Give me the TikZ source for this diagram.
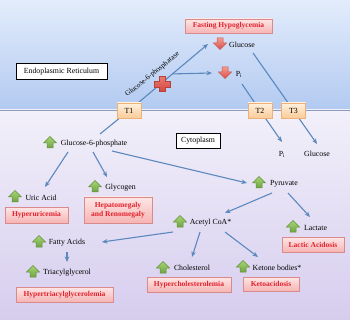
\documentclass[tikz,border=0pt]{standalone}
\usepackage{fontspec}
\setmainfont{Liberation Serif}
\usetikzlibrary{calc,arrows.meta,shadows}
\pgfdeclarelayer{bg}\pgfdeclarelayer{lines}\pgfsetlayers{bg,lines,main}
\definecolor{bgtop}{HTML}{E3ECFB}
\definecolor{bgmid}{HTML}{B2CAF1}
\definecolor{cytop}{HTML}{F2F0FA}
\definecolor{cybot}{HTML}{D6CDEE}
\definecolor{membr}{HTML}{8C9BB8}
\definecolor{connblue}{HTML}{5B88BE}
\definecolor{pinktop}{HTML}{FDE6E6}
\definecolor{pinkbot}{HTML}{F6B4B4}
\definecolor{boxborder}{HTML}{D98A8A}
\definecolor{redtxt}{HTML}{E3202B}
\definecolor{ttop}{HTML}{FFF1DE}
\definecolor{tbot}{HTML}{FBCB98}
\definecolor{tborder}{HTML}{EDB077}
\definecolor{greentop}{HTML}{A9D575}
\definecolor{greenbot}{HTML}{6EA442}
\definecolor{greenborder}{HTML}{5F8F3A}
\definecolor{redatop}{HTML}{F49A90}
\definecolor{redabot}{HTML}{DB4F48}
\definecolor{redaborder}{HTML}{C9574F}
\definecolor{crosstop}{HTML}{EC7A72}
\definecolor{crossbot}{HTML}{CF4841}
\definecolor{crossborder}{HTML}{B8403B}
\begin{document}
\begin{tikzpicture}[x=1pt,y=-1pt,
  every node/.style={font=\fontsize{7.8}{9}\selectfont, inner sep=1pt},
  conn/.style={draw=connblue, line width=1.1pt, -{Stealth[length=5.5pt,width=4.5pt]}},
  redbox/.style={draw=boxborder, line width=0.6pt, top color=pinktop, bottom color=pinkbot,
    text=redtxt, font=\bfseries\fontsize{7.5}{9}\selectfont, align=center, inner sep=0pt,
    drop shadow={shadow xshift=0.8pt,shadow yshift=-0.8pt,opacity=0.25}},
  tbox/.style={draw=tborder, line width=0.6pt, top color=ttop, bottom color=tbot,
    minimum width=24pt, minimum height=15pt, inner sep=0pt,
    drop shadow={shadow xshift=0.8pt,shadow yshift=-0.8pt,opacity=0.25}},
  regbox/.style={draw=black, line width=0.8pt, fill=white, inner sep=0pt},
  uparr/.pic={\path[draw=greenborder, line width=0.5pt, top color=greentop, bottom color=greenbot]
    (-6.5,0) -- (0,-6.5) -- (6.5,0) -- (3,0) -- (3,5) -- (-3,5) -- (-3,0) -- cycle;},
  downarr/.pic={\path[draw=redaborder, line width=0.5pt, top color=redatop, bottom color=redabot]
    (-6.5,0) -- (0,6.5) -- (6.5,0) -- (3,0) -- (3,-5) -- (-3,-5) -- (-3,0) -- cycle;},
  redcross/.pic={\path[draw=crossborder, line width=0.5pt, top color=crosstop, bottom color=crossbot]
    (-3,-7.5) -- (3,-7.5) -- (3,-2.8) -- (8,-2.8) -- (8,2.8) -- (3,2.8) -- (3,7.5) -- (-3,7.5) -- (-3,2.8)
    -- (-8,2.8) -- (-8,-2.8) -- (-3,-2.8) -- cycle;}
]
\useasboundingbox (0,0) rectangle (350,320);
% background
\begin{pgfonlayer}{bg}
\fill[top color=bgtop, bottom color=bgmid] (0,0) rectangle (350,110);
\fill[top color=cytop, bottom color=cybot] (0,110) rectangle (350,320);
\draw[membr, line width=1pt] (0,110.5) -- (350,110.5);
\end{pgfonlayer}

% boxes
\node[regbox, minimum width=91pt, minimum height=16pt] (er) at (61.5,71.5) {Endoplasmic Reticulum};
\node[regbox, minimum width=44pt, minimum height=15pt] (cyto) at (198,140.5) {Cytoplasm};
\node[tbox] (t1) at (129,110.5) {T1};
\node[tbox] (t2) at (260,110.5) {T2};
\node[tbox] (t3) at (293.5,110.5) {T3};
\node[redbox, minimum width=87pt, minimum height=14pt] (fh) at (228.5,26) {Fasting Hypoglycemia};

% ER metabolites
\pic at (220,43) {downarr};
\node (glcER) at (242,45) {Glucose};
\pic at (225,72) {downarr};
\node (piER) at (239,74) {P\textsubscript{i}};

% cytoplasm
\pic at (50,143) {uparr};
\node (g6p) at (94,144) {Glucose-6-phosphate};
\node (pi2) at (282,154) {P\textsubscript{i}};
\node (glc2) at (317,154) {Glucose};

\pic at (15,197) {uparr};
\node (uric) at (41,198) {Uric Acid};
\node[redbox, minimum width=63pt, minimum height=16pt] (hyperuric) at (36.5,215) {Hyperuricemia};

\pic at (95,187) {uparr};
\node (glycogen) at (120.5,188) {Glycogen};
\node[redbox, minimum width=68pt, minimum height=26pt] (hepato) at (118,210) {Hepatomegaly\\and Renomegaly};

\pic at (259,183) {uparr};
\node (pyruvate) at (284,184) {Pyruvate};

\pic at (180,222) {uparr};
\node (acetyl) at (210.5,223) {Acetyl CoA*};

\pic at (293,227) {uparr};
\node (lactate) at (315.5,228) {Lactate};
\node[redbox, minimum width=62pt, minimum height=15pt] (lactic) at (313,244.5) {Lactic Acidosis};

\pic at (39,242) {uparr};
\node (fatty) at (67,243) {Fatty Acids};

\pic at (33,272) {uparr};
\node (triacyl) at (67,273) {Triacylglycerol};
\node[redbox, minimum width=97pt, minimum height=15pt] (hypertri) at (64.5,294.5) {Hypertriacylglycerolemia};

\pic at (163,268) {uparr};
\node (chol) at (192,268) {Cholesterol};
\node[redbox, minimum width=84pt, minimum height=15pt] (hyperchol) at (189,284.5) {Hypercholesterolemia};

\pic at (243,267) {uparr};
\node (ketone) at (277,268) {Ketone bodies*};
\node[redbox, minimum width=56pt, minimum height=14pt] (keto) at (271,284) {Ketoacidosis};

% connectors
\coordinate (d0) at ($(g6p)+(6,-10)$);
\coordinate (tipG) at ($(glcER)+(-34,-1)$);
\coordinate (br) at ($(t1.center)!0.55!(tipG)$);
\begin{pgfonlayer}{lines}
\draw[conn] (d0) -- (t1.center) -- (tipG);
\draw[conn] (br) -- ($(piER)+(-27,-1)$);
\draw[conn] ($(glcER)+(11,8)$) -- (t3.center) -- ($(glc2)+(0,-10)$);
\draw[conn] ($(piER)+(3,10)$) -- (t2.center) -- ($(pi2)+(0,-12)$);
\draw[conn] ($(g6p)+(-26,8)$) -- ($(uric)+(4,-11)$);
\draw[conn] ($(g6p)+(-1,8)$) -- ($(glycogen)+(-13.5,-11)$);
\draw[conn] ($(g6p)+(18,7)$) -- ($(pyruvate)+(-37,-1)$);
\draw[conn] ($(pyruvate)+(-12,9)$) -- ($(acetyl)+(14.5,-10)$);
\draw[conn] ($(pyruvate)+(4,9)$) -- ($(lactate)+(-5.5,-11)$);
\draw[conn] ($(acetyl)+(-37.5,9)$) -- ($(fatty)+(35,-1)$);
\draw[conn] ($(acetyl)+(-10.5,9)$) -- ($(chol)+(0,-11)$);
\draw[conn] ($(acetyl)+(14.5,9)$) -- ($(ketone)+(-19,-11)$);
\draw[conn] ($(fatty)+(0,9)$) -- ($(triacyl)+(0,-11)$);
\end{pgfonlayer}
\pic at (162,84) {redcross};
\node[rotate=39, font=\fontsize{7.2}{8}\selectfont] (g6pase) at (152.5,74.5) {Glucose-6-phosphatase};
\end{tikzpicture}
\end{document}
